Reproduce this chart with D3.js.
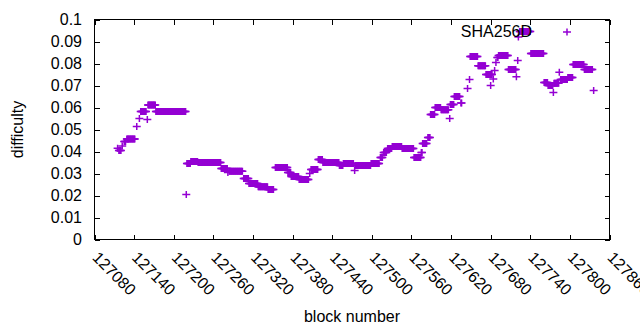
<!DOCTYPE html>
<html lang="en">
  <head>
    <meta charset="utf-8">
    <title>SHA256D difficulty</title>
    <script type="text/javascript" src="https://cdn.jsdelivr.net/npm/d3@7"></script>
    <style>
      body { margin: 0; background: #fff; }
      text { font-family: "Liberation Sans", Arial, sans-serif; font-size: 16px; fill: #000; }
    </style>
  </head>
  <body>
    <script type="text/javascript">
      // difficulty stays flat between retargets, so the series is kept as runs
      // of blocks: first block, last block, difficulty
      var runStart = [127115, 127117, 127122, 127125, 127129, 127144, 127148, 127150, 127160, 127161,
                      127173, 127219, 127220, 127226, 127237, 127272, 127282, 127284, 127306, 127314,
                      127328, 127343, 127354, 127373, 127378, 127390, 127406, 127408, 127419, 127426,
                      127451, 127457, 127474, 127475, 127499, 127513, 127518, 127524, 127531, 127546,
                      127564, 127575, 127577, 127585, 127589, 127596, 127605, 127618, 127619, 127625,
                      127635, 127645, 127648, 127649, 127661, 127673, 127680, 127684, 127686, 127688,
                      127690, 127692, 127707, 127719, 127721, 127722, 127724, 127741, 127761, 127767,
                      127775, 127776, 127784, 127786, 127797, 127805, 127822, 127836];
      var runEnd   = [127115, 127120, 127122, 127127, 127141, 127144, 127148, 127158, 127160, 127172,
                      127218, 127219, 127225, 127236, 127271, 127281, 127282, 127304, 127313, 127327,
                      127342, 127351, 127372, 127377, 127389, 127404, 127406, 127418, 127425, 127450,
                      127456, 127472, 127474, 127498, 127511, 127516, 127522, 127530, 127545, 127563,
                      127574, 127576, 127583, 127588, 127595, 127604, 127616, 127618, 127624, 127633,
                      127636, 127645, 127648, 127660, 127672, 127682, 127680, 127684, 127686, 127688,
                      127691, 127706, 127718, 127719, 127721, 127722, 127740, 127760, 127766, 127774,
                      127775, 127783, 127784, 127796, 127804, 127821, 127834, 127836];
      var runValue = [0.0415, 0.0405, 0.0425, 0.0445, 0.0457, 0.0514, 0.0550, 0.0582, 0.0545, 0.0611,
                      0.0582, 0.0205, 0.0345, 0.0355, 0.0350, 0.0323, 0.0305, 0.0310, 0.0277, 0.0255,
                      0.0240, 0.0227, 0.0327, 0.0305, 0.0286, 0.0273, 0.0300, 0.0318, 0.0364, 0.0350,
                      0.0336, 0.0345, 0.0314, 0.0336, 0.0345, 0.0373, 0.0395, 0.0414, 0.0423, 0.0414,
                      0.0373, 0.0395, 0.0436, 0.0464, 0.0568, 0.0600, 0.0590, 0.0550, 0.0614, 0.0650,
                      0.0620, 0.0686, 0.0727, 0.0832, 0.0790, 0.0750, 0.0700, 0.0730, 0.0768, 0.0805,
                      0.0827, 0.0836, 0.0773, 0.0740, 0.0814, 0.0920, 0.0945, 0.0845, 0.0714, 0.0700,
                      0.0668, 0.0710, 0.0760, 0.0727, 0.0736, 0.0795, 0.0773, 0.0677];

      var xTicks = [127080, 127140, 127200, 127260, 127320, 127380, 127440, 127500,
                    127560, 127620, 127680, 127740, 127800, 127860];
      var yTicks = [0, 0.01, 0.02, 0.03, 0.04, 0.05, 0.06, 0.07, 0.08, 0.09, 0.1];
      var seriesName = "SHA256D";

      var w = 640;
      var h = 330;
      // plot frame (avoid the name "top", it is window.top)
      var pLeft = 94.5, pRight = 609.5, pTop = 19.5, pBottom = 239.5;
      var color = "#9400d3";

      var points = [];
      for (var r = 0; r < runStart.length; r++) {
        for (var b = runStart[r]; b <= runEnd[r]; b++) {
          points.push({ block: b, value: runValue[r] });
        }
      }

      var svg = d3.select("body")
                  .append("svg")
                  .attr("width", w)
                  .attr("height", h);

      var xScale = d3.scaleLinear()
                     .domain([xTicks[0], xTicks[xTicks.length - 1]])
                     .range([pLeft, pRight]);

      var yScale = d3.scaleLinear()
                     .domain([0, 0.1])
                     .range([pBottom, pTop]);

      var fmt = d3.format("~g");

      // ticks on all four sides, pointing inward
      svg.append("g")
         .attr("transform", "translate(0," + pBottom + ")")
         .call(d3.axisBottom(xScale).tickValues(xTicks).tickSizeInner(-5).tickSizeOuter(0).tickFormat(""));
      svg.append("g")
         .attr("transform", "translate(0," + pTop + ")")
         .call(d3.axisTop(xScale).tickValues(xTicks).tickSizeInner(-5).tickSizeOuter(0).tickFormat(""));
      svg.append("g")
         .attr("transform", "translate(" + pLeft + ",0)")
         .call(d3.axisLeft(yScale).tickValues(yTicks).tickSizeInner(-5).tickSizeOuter(0).tickFormat(""));
      svg.append("g")
         .attr("transform", "translate(" + pRight + ",0)")
         .call(d3.axisRight(yScale).tickValues(yTicks).tickSizeInner(-5).tickSizeOuter(0).tickFormat(""));
      svg.selectAll(".domain").remove();
      svg.selectAll(".tick line").attr("stroke", "#000").attr("shape-rendering", "crispEdges");

      svg.append("rect")
         .attr("x", pLeft)
         .attr("y", pTop)
         .attr("width", pRight - pLeft)
         .attr("height", pBottom - pTop)
         .attr("fill", "none")
         .attr("stroke", "#000")
         .attr("shape-rendering", "crispEdges");

      svg.selectAll("text.ylab")
         .data(yTicks)
         .enter()
         .append("text")
         .attr("class", "ylab")
         .attr("x", 82)
         .attr("y", function(d) { return yScale(d); })
         .attr("dy", "0.36em")
         .attr("text-anchor", "end")
         .text(function(d) { return fmt(d); });

      svg.selectAll("text.xlab")
         .data(xTicks)
         .enter()
         .append("text")
         .attr("class", "xlab")
         .attr("transform", function(d) {
           return "translate(" + (xScale(d) + 1) + "," + (pBottom + 15) + ") rotate(45)";
         })
         .attr("dy", "0.36em")
         .text(function(d) { return d; });

      svg.append("text")
         .attr("transform", "translate(23," + ((pTop + pBottom) / 2) + ") rotate(-90)")
         .attr("text-anchor", "middle")
         .text("difficulty");

      svg.append("text")
         .attr("x", (pLeft + pRight) / 2)
         .attr("y", 322)
         .attr("text-anchor", "middle")
         .text("block number");

      var cross = "M-4,0H4M0,-3.5V3.5";

      svg.append("g")
         .selectAll("path")
         .data(points)
         .enter()
         .append("path")
         .attr("transform", function(d) {
           return "translate(" + xScale(d.block) + "," + yScale(d.value) + ")";
         })
         .attr("d", cross)
         .attr("fill", "none")
         .attr("stroke", color)
         .attr("stroke-width", 1.5);

      // key
      svg.append("text")
         .attr("x", 532)
         .attr("y", 37)
         .attr("text-anchor", "end")
         .text(seriesName);
      svg.append("path")
         .attr("transform", "translate(567,32)")
         .attr("d", cross)
         .attr("fill", "none")
         .attr("stroke", color)
         .attr("stroke-width", 1.5);
    </script>
  </body>
</html>
